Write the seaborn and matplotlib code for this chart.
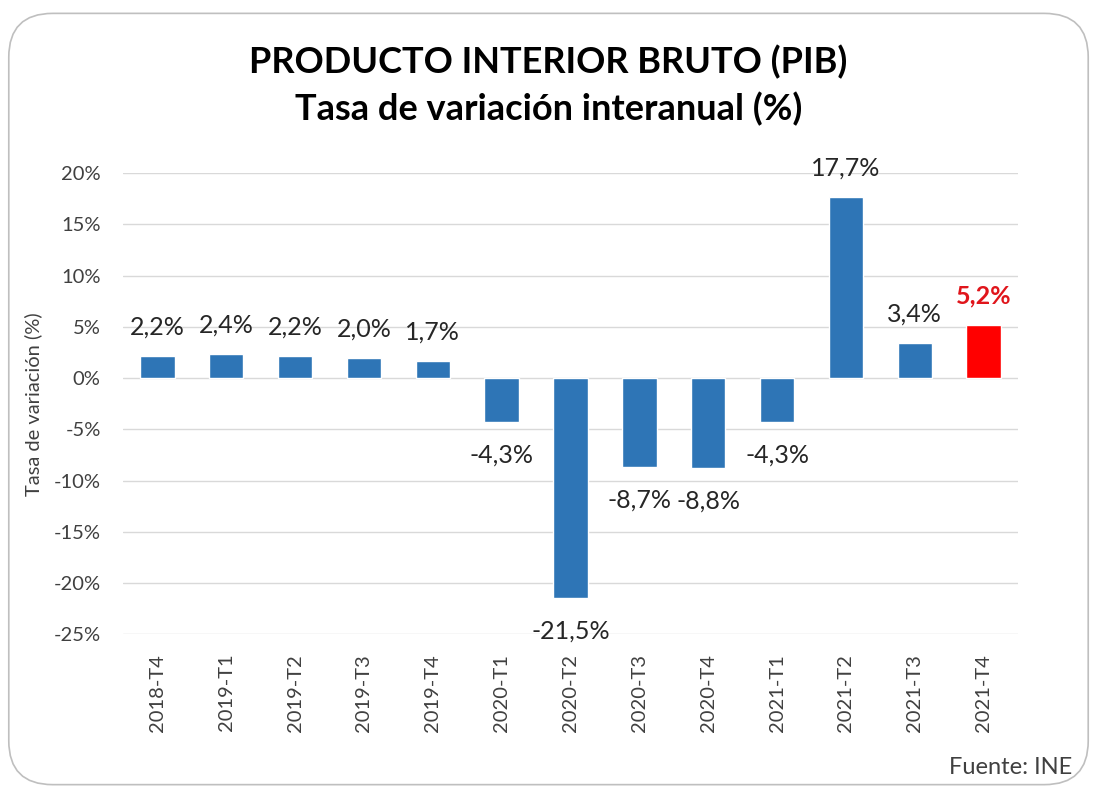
import numpy as np
import pandas as pd
import seaborn as sns
import matplotlib.pyplot as plt
from matplotlib.patches import FancyBboxPatch

# datos PIB, tasa de variacion interanual
trimestres = ["2018-T4", "2019-T1", "2019-T2", "2019-T3", "2019-T4",
              "2020-T1", "2020-T2", "2020-T3", "2020-T4",
              "2021-T1", "2021-T2", "2021-T3", "2021-T4"]
tasas = [2.2, 2.4, 2.2, 2.0, 1.7, -4.3, -21.5, -8.7, -8.8, -4.3, 17.7, 3.4, 5.2]
y_ticks = [20, 15, 10, 5, 0, -5, -10, -15, -20, -25]

azul = "#2E75B6"
rojo = "#FF0000"
colores = [azul] * (len(tasas) - 1) + [rojo]

df = pd.DataFrame({"trimestre": trimestres, "tasa": tasas})

sns.set_theme(style="white")
plt.rcParams["font.family"] = ["Lato", "DejaVu Sans"]

fig = plt.figure(figsize=(10.97, 7.87), dpi=100)
ax = fig.add_axes([0.112, 0.194, 0.816, 0.586])

# borde redondeado
marco = FancyBboxPatch((0.008, 0.003), 0.984, 0.98, boxstyle="round,pad=0,rounding_size=0.04",
                       transform=fig.transFigure, facecolor="none", edgecolor="#BFBFBF", lw=1.2,
                       mutation_aspect=1097 / 787)
fig.patches.append(marco)

sns.barplot(data=df, x="trimestre", y="tasa", hue="trimestre", palette=colores,
            legend=False, width=0.5, ax=ax, zorder=3, saturation=1)

ax.set_ylim(-25, 20)
ax.set_yticks(y_ticks)
ax.set_yticklabels([f"{t}%" for t in y_ticks], fontsize=14.5, color="#404040")
ax.yaxis.grid(True, color="#D9D9D9", lw=1)
ax.set_axisbelow(True)
for s in ax.spines.values():
    s.set_visible(False)
ax.tick_params(axis="y", length=0, pad=16)
ax.tick_params(axis="x", length=0, pad=14)
plt.setp(ax.get_xticklabels(), rotation=90, fontsize=14.5, color="#404040")
ax.set_xlabel("")
ax.set_ylabel("Tasa de variación (%)", fontsize=14.5, color="#404040", labelpad=8)

# etiquetas de datos
for i, v in enumerate(tasas):
    txt = f"{v:.1f}%".replace(".", ",")
    if i == len(tasas) - 1:
        ax.text(i, v + 2.8, txt, ha="center", va="center", fontsize=18, color="#E0151B",
                fontweight="bold", clip_on=False)
    elif v >= 0:
        ax.text(i, v + 2.8, txt, ha="center", va="center", fontsize=18, color="#262626", clip_on=False)
    else:
        ax.text(i, v - 3.2, txt, ha="center", va="center", fontsize=18, color="#262626", clip_on=False)

fig.text(0.5, 0.921, "PRODUCTO INTERIOR BRUTO (PIB)", ha="center", va="center",
         fontsize=26, fontweight="bold", color="black")
fig.text(0.5, 0.862, "Tasa de variación interanual (%)", ha="center", va="center",
         fontsize=26, fontweight="bold", color="black")
fig.text(0.977, 0.025, "Fuente: INE", ha="right", va="center", fontsize=17, color="#404040")

fig.savefig("out.png", dpi=100, facecolor="white")
